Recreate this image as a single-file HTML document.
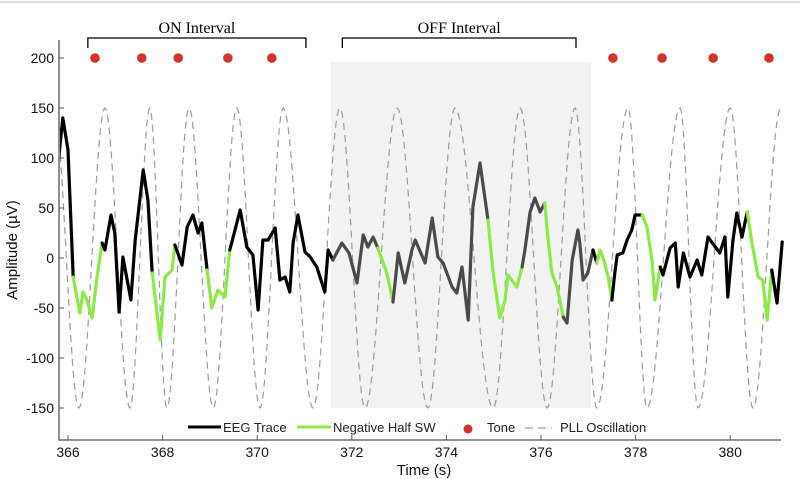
<!DOCTYPE html>
<html><head><meta charset="utf-8"><style>
html,body{margin:0;padding:0;background:#fff;}
svg{display:block;font-family:"Liberation Sans",Arial,sans-serif;}
</style></head><body>
<svg id="chart" width="800" height="479" viewBox="0 0 800 479" xmlns="http://www.w3.org/2000/svg">
<line x1="0" y1="2" x2="800" y2="2" stroke="#d6e0f0" stroke-width="2"/>
</svg>
<script>
// ---- data ----
const traceTimes = [365.76,365.89,366.00,366.11,366.25,366.32,366.40,366.51,366.61,366.72,366.78,366.91,366.99,367.08,367.16,367.33,367.42,367.59,367.69,367.78,367.95,368.05,368.20,368.26,368.41,368.52,368.64,368.75,368.83,368.94,369.04,369.17,369.32,369.42,369.64,369.78,369.91,370.02,370.12,370.23,370.38,370.48,370.59,370.69,370.76,370.86,371.01,371.12,371.26,371.43,371.50,371.60,371.79,371.94,372.11,372.24,372.34,372.45,372.55,372.74,372.87,372.98,373.12,373.27,373.34,373.55,373.70,373.82,373.93,374.12,374.22,374.33,374.46,374.56,374.71,374.88,374.99,375.13,375.24,375.30,375.49,375.60,375.66,375.77,375.87,375.98,376.08,376.15,376.23,376.34,376.47,376.55,376.66,376.78,376.82,376.89,376.99,377.10,377.18,377.25,377.33,377.42,377.50,377.56,377.61,377.73,377.82,377.92,377.99,378.14,378.24,378.35,378.41,378.52,378.58,378.73,378.84,378.90,379.01,379.15,379.30,379.40,379.53,379.78,379.89,379.95,380.06,380.14,380.25,380.36,380.46,380.59,380.69,380.78,380.88,380.99,381.10];
const traceValues = [80,140,108,-19,-55,-34,-42,-60,-20,15,8,43,25,-54,1,-42,18,88,58,-15,-82,-19,-12,13,-7,31,43,25,35,-12,-50,-32,-39,8,48,11,3,-52,18,18,30,-22,-19,-34,15,43,6,1,-9,-34,8,-2,15,5,-25,23,11,21,10,-15,-44,5,-25,8,18,-5,40,1,-5,-29,-35,-9,-62,51,95,38,-15,-60,-42,-17,-29,-9,8,46,60,46,55,18,-15,-29,-59,-65,-2,28,15,-22,-15,8,-5,8,-2,-19,-42,-15,3,5,18,28,43,43,31,-4,-42,-9,-17,10,15,-29,5,-19,-2,-17,21,5,21,-39,18,45,21,46,15,-19,-22,-62,-12,-45,16,-29,26];
const greenStarts = [366.11,367.78,368.94,372.55,374.88,376.08,377.18,378.14,380.36];
const greenEnds   = [366.72,368.26,369.42,372.87,375.60,376.47,377.50,378.56,380.88];
const pllTimes  = [365.70,366.23,366.78,367.31,367.73,368.09,368.56,369.07,369.57,370.06,370.55,371.18,371.75,372.28,372.96,373.61,374.18,374.99,375.56,376.13,376.72,377.18,377.84,378.24,378.94,379.32,380.00,380.48,381.07];
const pllValues = [150,-150,150,-150,150,-150,150,-150,150,-150,150,-150,150,-150,150,-150,150,-150,150,-150,150,-150,150,-150,150,-150,150,-150,150];
const toneTimes = [366.57,367.56,368.33,369.38,370.31,377.52,378.56,379.64,380.82];
const toneValue = 200;
const offStart = 371.56, offEnd = 377.06;
const onStart = 366.42, onEnd = 371.03;
const offBrStart = 371.80, offBrEnd = 376.74;
const xTicks = [366,368,370,372,374,376,378,380];
const yTicks = [200,150,100,50,0,-50,-100,-150];

// ---- scales ----
const X = t => 68 + (t - 366) * 47.3;
const Y = v => 258 - v;
const NS = "http://www.w3.org/2000/svg";
const svg = document.getElementById('chart');
function mk(tag, attrs, parent){ const e=document.createElementNS(NS,tag); for(const k in attrs) e.setAttribute(k,attrs[k]); (parent||svg).appendChild(e); return e; }

const defs = mk('defs',{});
const cp = mk('clipPath',{id:'plotclip'},defs);
mk('rect',{x:60,y:40,width:725,height:400},cp);

const off = mk('rect',{x:X(offStart),y:Y(196),width:X(offEnd)-X(offStart),height:Y(-150)-Y(196),fill:'#f2f2f2'});



let d='';
for(let i=0;i<pllTimes.length-1;i++){
  const t0=pllTimes[i],t1=pllTimes[i+1],v0=pllValues[i],v1=pllValues[i+1];
  for(let k=0;k<=20;k++){
    const f=k/20, t=t0+(t1-t0)*f, v=(v0+v1)/2+(v0-v1)/2*Math.cos(Math.PI*f);
    d+=(i===0&&k===0?'M':'L')+X(t).toFixed(1)+','+Y(v).toFixed(1);
  }
}
const pll = mk('path',{d:d,fill:'none',stroke:'#9a9a9a','stroke-width':1.2,'stroke-dasharray':'7,5','clip-path':'url(#plotclip)'});



function inGreen(t){ for(let i=0;i<greenStarts.length;i++) if(t>=greenStarts[i]-1e-6&&t<=greenEnds[i]+1e-6) return true; return false; }
function colorAt(a,b){ const tm=(a+b)/2; if(inGreen(a)&&inGreen(b)) return '#8ee84a'; if(tm>offStart&&tm<offEnd) return '#4a4a4a'; return '#000'; }
const g = mk('g',{'clip-path':'url(#plotclip)'});


let cur=null, pts=[];
function flush(){ if(pts.length>1){ const p=mk('polyline',{points:pts.join(' '),fill:'none',stroke:cur,'stroke-width':3.2,'stroke-linejoin':'round','stroke-linecap':'round'},g);
  
   } }
for(let i=0;i<traceTimes.length-1;i++){
  const c=colorAt(traceTimes[i],traceTimes[i+1]);
  const p0=X(traceTimes[i]).toFixed(1)+','+Y(traceValues[i]);
  const p1=X(traceTimes[i+1]).toFixed(1)+','+Y(traceValues[i+1]);
  if(c!==cur){ flush(); cur=c; pts=[p0]; }
  pts.push(p1);
}
flush();

toneTimes.forEach(t=>{
  const c=mk('circle',{cx:X(t),cy:Y(toneValue),r:4.8,fill:'#d0342c'});
  
  
});

function bracket(a,b,label,name){
  const p=mk('path',{d:`M${X(a)},48 L${X(a)},38 L${X(b)},38 L${X(b)},48`,fill:'none',stroke:'#000','stroke-width':1.3});
  
  
  const tx=mk('text',{x:(X(a)+X(b))/2,y:33,'text-anchor':'middle','font-family':'"Liberation Serif",serif','font-size':16});
  tx.textContent=label;
  
  
}
bracket(onStart,onEnd,'ON Interval','on-interval');
bracket(offBrStart,offBrEnd,'OFF Interval','off-interval');

const ax=mk('path',{d:'M59,40 L59,440 L781,440',fill:'none',stroke:'#555','stroke-width':1.3});


yTicks.forEach(v=>{
  mk('line',{x1:59,y1:Y(v),x2:64,y2:Y(v),stroke:'#555','stroke-width':1});
  const t=mk('text',{x:54,y:Y(v)+5,'text-anchor':'end','font-size':14,fill:'#111'});
  t.textContent=v;
  
  
});
xTicks.forEach(v=>{
  mk('line',{x1:X(v),y1:440,x2:X(v),y2:435,stroke:'#555','stroke-width':1});
  const t=mk('text',{x:X(v),y:457,'text-anchor':'middle','font-size':14,fill:'#111'});
  t.textContent=v;
  
  
});
const xt=mk('text',{x:424,y:475,'text-anchor':'middle','font-size':15,fill:'#111'});
xt.textContent='Time (s)';


const yt=mk('text',{x:0,y:0,'text-anchor':'middle','font-size':15,fill:'#111',transform:'translate(17,250) rotate(-90)'});
yt.textContent='Amplitude (\u00b5V)';



const lg=mk('g',{});


mk('line',{x1:188,y1:427,x2:221,y2:427,stroke:'#000','stroke-width':3},lg);
let lt=mk('text',{x:223,y:432,'font-size':13,fill:'#222'},lg); lt.textContent='EEG Trace';


mk('line',{x1:297,y1:427,x2:331,y2:427,stroke:'#8ee84a','stroke-width':3},lg);
lt=mk('text',{x:333,y:432,'font-size':13,fill:'#222'},lg); lt.textContent='Negative Half SW';


mk('circle',{cx:468,cy:429,r:4.5,fill:'#d0342c'},lg);
lt=mk('text',{x:487,y:432,'font-size':13,fill:'#222'},lg); lt.textContent='Tone';


mk('line',{x1:525,y1:428,x2:552,y2:428,stroke:'#888','stroke-width':1,'stroke-dasharray':'8,5'},lg);
lt=mk('text',{x:560,y:432,'font-size':13,fill:'#222'},lg); lt.textContent='PLL Oscillation';


</script>
</body></html>
